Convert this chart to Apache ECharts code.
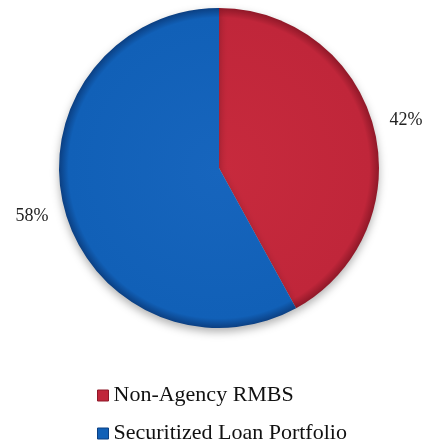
<!DOCTYPE html>
<html>
<head>
<meta charset="utf-8">
<script src="https://cdn.jsdelivr.net/npm/echarts@6/dist/echarts.min.js"></script>
<style>html,body{margin:0;padding:0;background:#fff}#c{width:429px;height:445px}</style>
</head>
<body>
<div id="c"></div>
<script>
const categories = ['Non-Agency RMBS', 'Securitized Loan Portfolio'];
const values = [42, 58];
const colors = [['#c72a3d', '#c0263a', '#8f1828'], ['#1765bd', '#1160b7', '#0b3f82']];

const cx = 219, cy = 168, R = 160;
function grad(c) {
  return {
    type: 'radial', x: cx, y: cy, r: R, global: true,
    colorStops: [{offset: 0, color: c[0]}, {offset: 0.94, color: c[1]}, {offset: 1, color: c[2]}]
  };
}
const chart = echarts.init(document.getElementById('c'));
chart.setOption({
  animation: false,
  legend: {
    orient: 'vertical', left: 97, top: 384, itemGap: 15, height: 61, padding: 0,
    itemWidth: 11, itemHeight: 11, icon: 'rect',
    textStyle: {fontFamily: 'Liberation Serif', fontSize: 22, lineHeight: 23, color: '#111'},
    data: categories.map((n, i) => ({name: n, itemStyle: {color: colors[i][1], borderColor: colors[i][2], borderWidth: 1}}))
  },
  series: [{
    type: 'pie', center: [cx, cy], radius: R, startAngle: 90, clockwise: true,
    data: categories.map((n, i) => ({name: n, value: values[i], itemStyle: {color: grad(colors[i])}})),
    itemStyle: {shadowBlur: 8, shadowOffsetY: 4, shadowColor: 'rgba(0,0,0,0.3)'},
    label: {show: true, position: 'outside', formatter: '{c}%', overflow: 'none', distanceToLabelLine: 0,
            fontFamily: 'Liberation Serif', fontSize: 18, color: '#222'},
    labelLine: {show: false, length: 33, length2: 0},
    labelLayout: {align: 'center'},
    emphasis: {disabled: true}
  }]
});
</script>
</body>
</html>
